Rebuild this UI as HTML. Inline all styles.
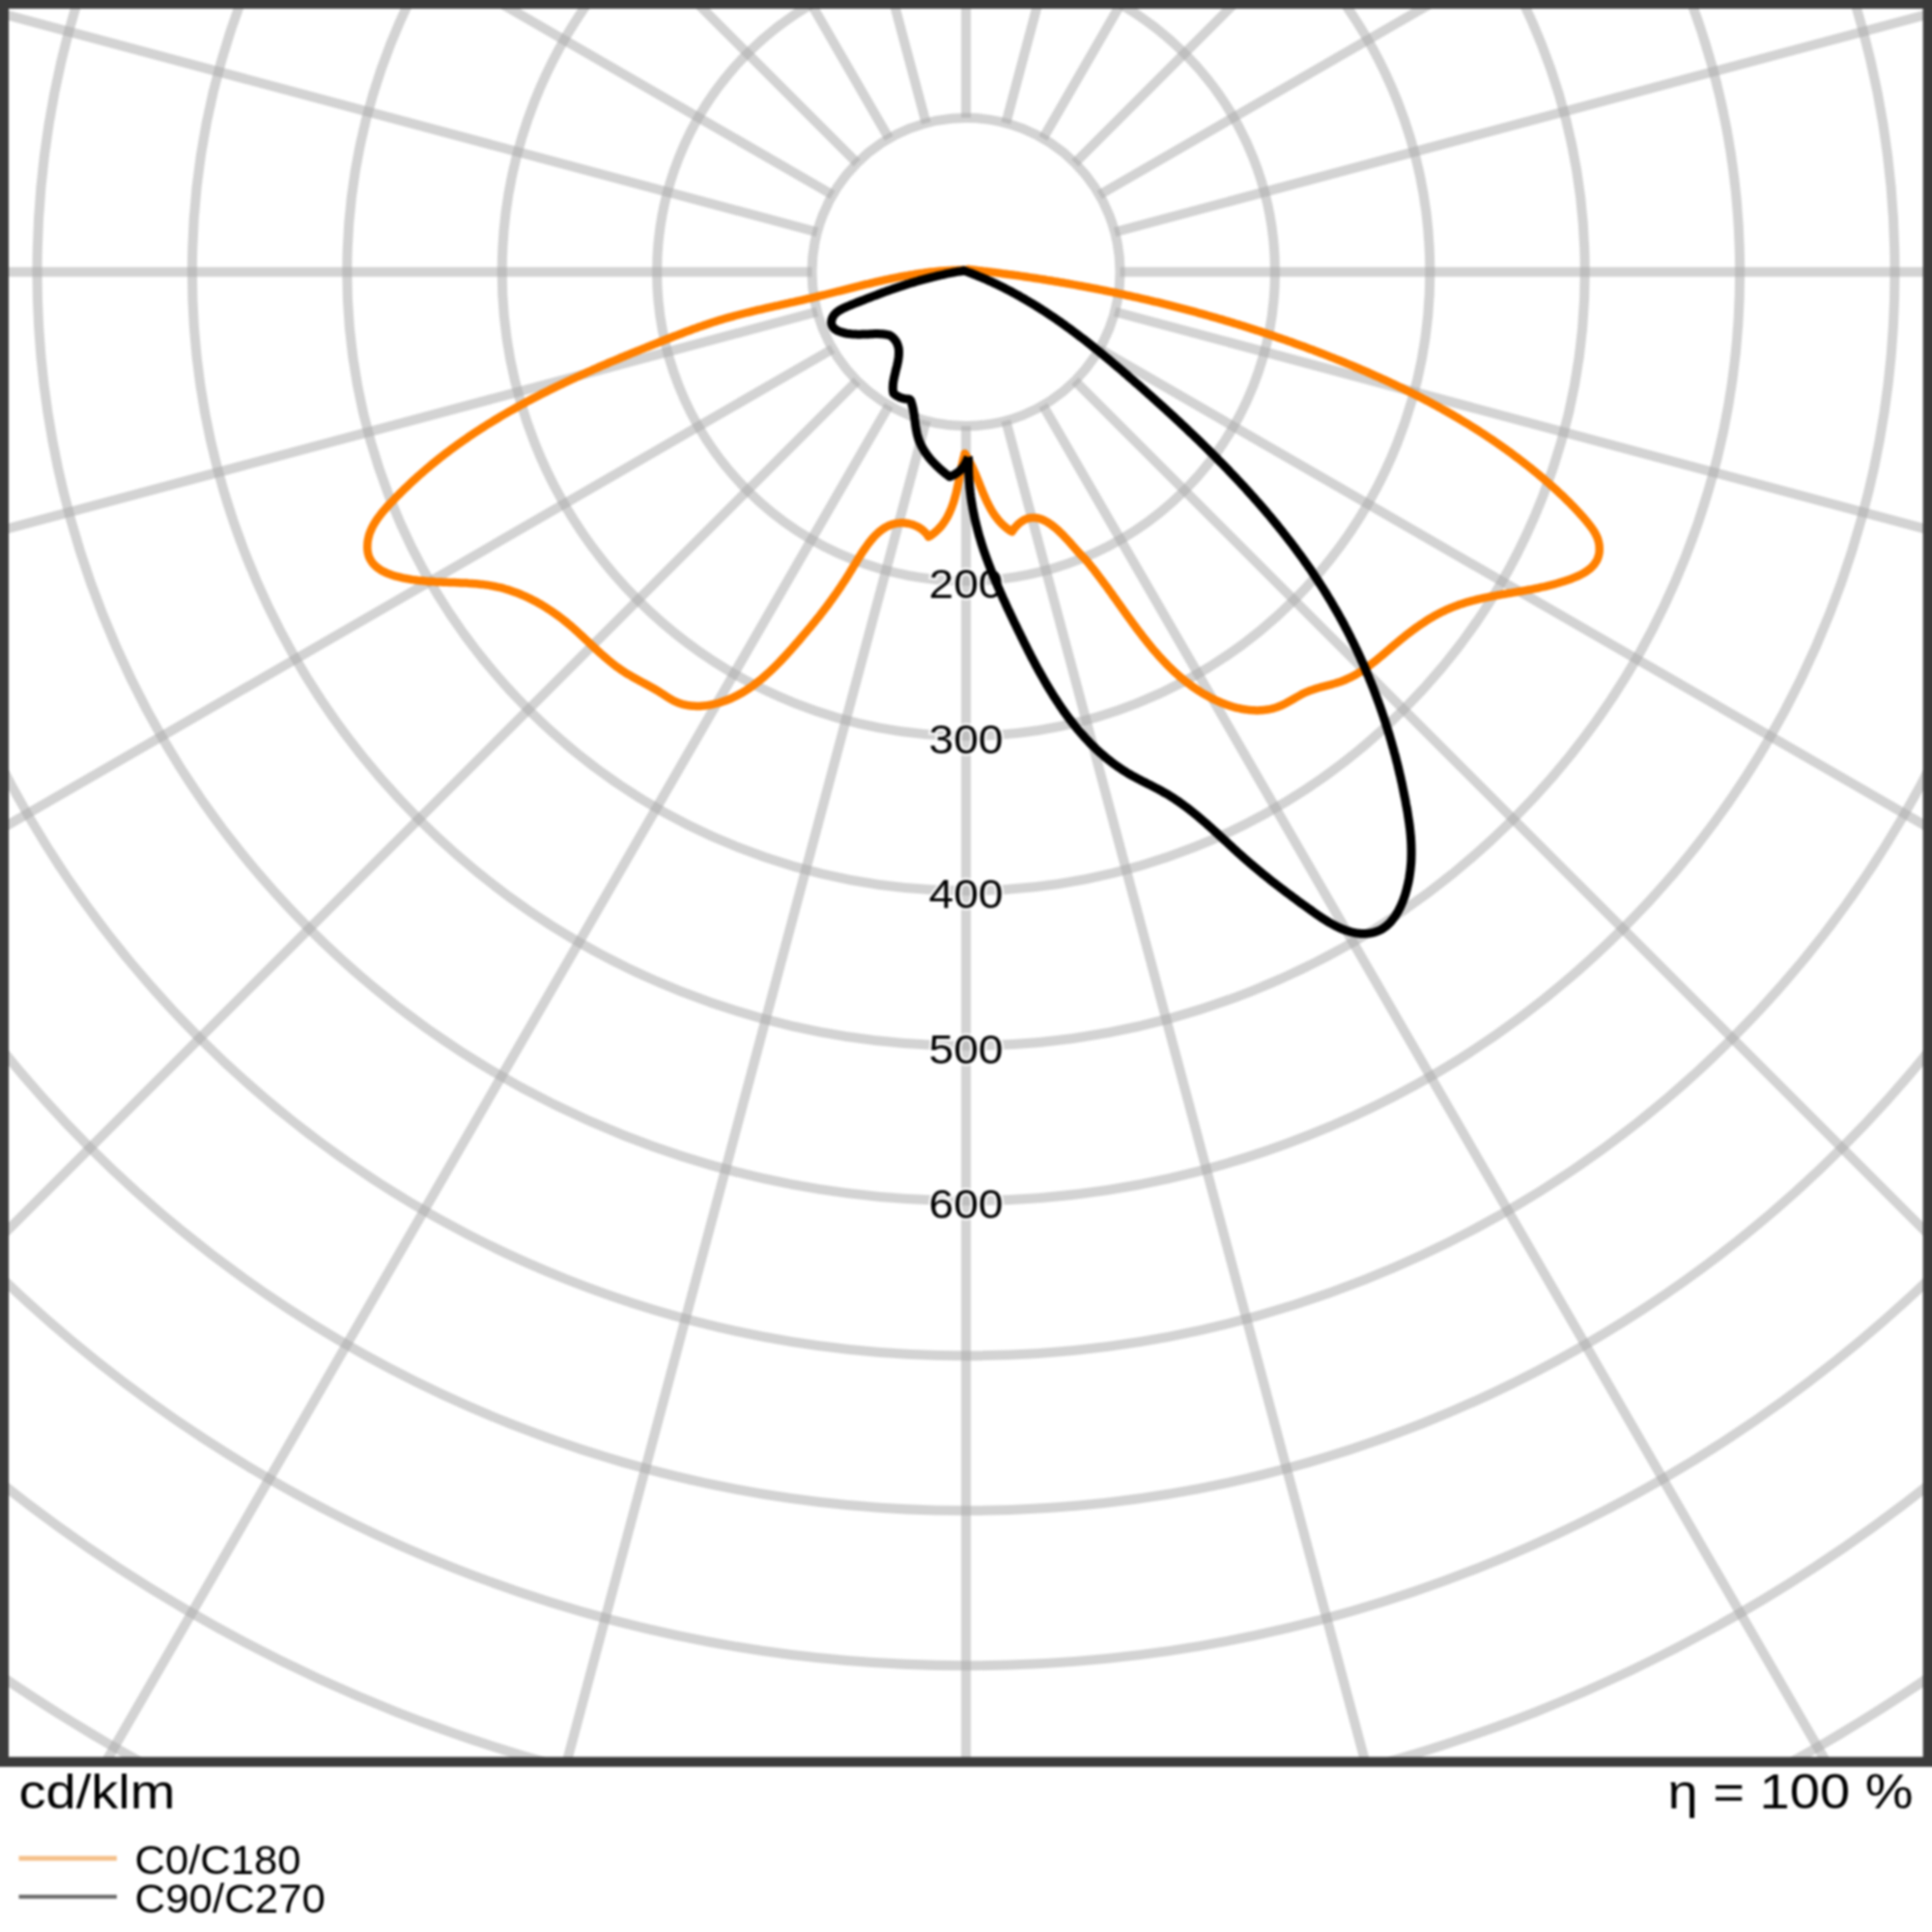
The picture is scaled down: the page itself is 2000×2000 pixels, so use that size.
<!DOCTYPE html>
<html><head><meta charset="utf-8"><style>
html,body{margin:0;padding:0;background:#fff;}
body{width:2000px;height:2000px;overflow:hidden;}
svg{display:block;}
text{font-family:"Liberation Sans",sans-serif;}
</style></head><body>
<svg width="2000" height="2000" viewBox="0 0 2000 2000" xmlns="http://www.w3.org/2000/svg">
<defs><clipPath id="fr"><rect x="0" y="0" width="2000" height="1824"/></clipPath>
<filter id="soft" filterUnits="userSpaceOnUse" x="-60" y="-60" width="2120" height="2120" color-interpolation-filters="sRGB"><feGaussianBlur stdDeviation="0.9"/></filter></defs>
<g filter="url(#soft)">
<rect x="-60" y="-60" width="2120" height="2120" fill="#fff"/>
<g clip-path="url(#fr)">
<g fill="none" stroke="rgb(171,171,171)" stroke-opacity="0.52" stroke-width="10">
<circle cx="1000.0" cy="281.5" r="159.5"/>
<circle cx="1000.0" cy="281.5" r="319.9"/>
<circle cx="1000.0" cy="281.5" r="480.3"/>
<circle cx="1000.0" cy="281.5" r="640.7"/>
<circle cx="1000.0" cy="281.5" r="801.1"/>
<circle cx="1000.0" cy="281.5" r="961.5"/>
<circle cx="1000.0" cy="281.5" r="1121.9"/>
<circle cx="1000.0" cy="281.5" r="1282.3"/>
<circle cx="1000.0" cy="281.5" r="1442.7"/>
<circle cx="1000.0" cy="281.5" r="1603.1"/>
<circle cx="1000.0" cy="281.5" r="1763.5"/>
<circle cx="1000.0" cy="281.5" r="1923.9"/>
<circle cx="1000.0" cy="281.5" r="2084.3"/>
<line x1="1000.00" y1="441.00" x2="1000.00" y2="2881.50"/>
<line x1="1041.28" y1="435.57" x2="1672.93" y2="2792.91"/>
<line x1="1079.75" y1="419.63" x2="2300.00" y2="2533.17"/>
<line x1="1112.78" y1="394.28" x2="2838.48" y2="2119.98"/>
<line x1="1138.13" y1="361.25" x2="3251.67" y2="1581.50"/>
<line x1="1154.07" y1="322.78" x2="3511.41" y2="954.43"/>
<line x1="1159.50" y1="281.50" x2="3600.00" y2="281.50"/>
<line x1="1154.07" y1="240.22" x2="3511.41" y2="-391.43"/>
<line x1="1138.13" y1="201.75" x2="3251.67" y2="-1018.50"/>
<line x1="1112.78" y1="168.72" x2="2838.48" y2="-1556.98"/>
<line x1="1079.75" y1="143.37" x2="2300.00" y2="-1970.17"/>
<line x1="1041.28" y1="127.43" x2="1672.93" y2="-2229.91"/>
<line x1="1000.00" y1="122.00" x2="1000.00" y2="-2318.50"/>
<line x1="958.72" y1="127.43" x2="327.07" y2="-2229.91"/>
<line x1="920.25" y1="143.37" x2="-300.00" y2="-1970.17"/>
<line x1="887.22" y1="168.72" x2="-838.48" y2="-1556.98"/>
<line x1="861.87" y1="201.75" x2="-1251.67" y2="-1018.50"/>
<line x1="845.93" y1="240.22" x2="-1511.41" y2="-391.43"/>
<line x1="840.50" y1="281.50" x2="-1600.00" y2="281.50"/>
<line x1="845.93" y1="322.78" x2="-1511.41" y2="954.43"/>
<line x1="861.87" y1="361.25" x2="-1251.67" y2="1581.50"/>
<line x1="887.22" y1="394.28" x2="-838.48" y2="2119.98"/>
<line x1="920.25" y1="419.63" x2="-300.00" y2="2533.17"/>
<line x1="958.72" y1="435.57" x2="327.07" y2="2792.91"/>
</g>
<g font-size="43" fill="#000" stroke="#fff" stroke-width="5" stroke-opacity="0.75" paint-order="stroke">
<text x="1000" y="619.4" text-anchor="middle" textLength="77" lengthAdjust="spacingAndGlyphs">200</text>
<text x="1000" y="779.8" text-anchor="middle" textLength="77" lengthAdjust="spacingAndGlyphs">300</text>
<text x="1000" y="940.2" text-anchor="middle" textLength="77" lengthAdjust="spacingAndGlyphs">400</text>
<text x="1000" y="1100.6" text-anchor="middle" textLength="77" lengthAdjust="spacingAndGlyphs">500</text>
<text x="1000" y="1261.0" text-anchor="middle" textLength="77" lengthAdjust="spacingAndGlyphs">600</text>
</g>
<path d="M1000.0,279.5 L998.0,279.6 L996.0,279.6 L993.9,279.6 L991.9,279.6 L989.9,279.7 L987.8,279.8 L985.8,279.8 L983.8,279.9 L981.8,280.0 L979.8,280.2 L977.7,280.3 L975.7,280.4 L973.7,280.6 L971.7,280.8 L969.7,281.0 L967.7,281.2 L965.7,281.4 L963.7,281.6 L961.7,281.8 L959.8,282.1 L957.8,282.3 L955.8,282.6 L953.8,282.9 L951.8,283.1 L949.8,283.4 L947.9,283.7 L945.9,284.1 L943.9,284.4 L942.0,284.7 L940.0,285.1 L938.0,285.4 L936.1,285.8 L934.1,286.1 L932.1,286.5 L930.2,286.9 L928.2,287.3 L926.3,287.7 L924.3,288.1 L922.3,288.5 L920.4,288.9 L918.4,289.3 L916.5,289.7 L914.5,290.2 L912.6,290.6 L910.6,291.0 L908.7,291.5 L906.7,291.9 L904.8,292.4 L902.8,292.8 L900.9,293.3 L898.9,293.8 L897.0,294.2 L895.1,294.7 L893.1,295.2 L891.2,295.7 L889.2,296.2 L887.3,296.6 L885.3,297.1 L883.4,297.6 L881.5,298.1 L879.5,298.6 L877.6,299.1 L875.6,299.6 L873.7,300.1 L871.7,300.6 L869.8,301.1 L867.8,301.5 L865.9,302.0 L864.0,302.5 L862.0,303.0 L860.1,303.5 L858.1,304.0 L856.2,304.5 L854.2,305.0 L852.3,305.5 L850.3,305.9 L848.4,306.4 L846.4,306.9 L844.5,307.4 L842.5,307.8 L840.5,308.3 L838.6,308.8 L836.6,309.2 L834.7,309.7 L832.7,310.1 L830.7,310.6 L828.8,311.0 L826.8,311.5 L824.8,311.9 L822.9,312.4 L820.9,312.8 L818.9,313.2 L817.0,313.7 L815.0,314.1 L813.0,314.5 L811.1,315.0 L809.1,315.4 L807.1,315.8 L805.2,316.3 L803.2,316.7 L801.3,317.2 L799.3,317.6 L797.3,318.0 L795.4,318.5 L793.4,318.9 L791.4,319.4 L789.5,319.8 L787.5,320.3 L785.6,320.7 L783.6,321.2 L781.7,321.7 L779.7,322.1 L777.8,322.6 L775.8,323.1 L773.9,323.5 L771.9,324.0 L770.0,324.5 L768.0,325.0 L766.1,325.5 L764.2,326.0 L762.2,326.5 L760.3,327.0 L758.4,327.6 L756.4,328.1 L754.5,328.6 L752.6,329.2 L750.7,329.7 L748.8,330.3 L746.9,330.9 L745.0,331.4 L743.1,332.0 L741.2,332.6 L739.3,333.2 L737.4,333.8 L735.5,334.5 L733.6,335.1 L731.7,335.7 L729.8,336.4 L728.0,337.0 L726.1,337.7 L724.2,338.3 L722.3,339.0 L720.5,339.7 L718.6,340.3 L716.7,341.0 L714.9,341.7 L713.0,342.4 L711.1,343.1 L709.3,343.8 L707.4,344.5 L705.6,345.2 L703.7,345.9 L701.8,346.7 L700.0,347.4 L698.1,348.1 L696.3,348.8 L694.4,349.5 L692.5,350.3 L690.7,351.0 L688.8,351.7 L687.0,352.5 L685.1,353.2 L683.2,353.9 L681.4,354.7 L679.5,355.4 L677.7,356.1 L675.8,356.9 L673.9,357.6 L672.1,358.4 L670.2,359.1 L668.3,359.9 L666.5,360.6 L664.6,361.4 L662.8,362.1 L660.9,362.9 L659.0,363.6 L657.2,364.4 L655.3,365.1 L653.4,365.9 L651.6,366.7 L649.7,367.4 L647.9,368.2 L646.0,369.0 L644.1,369.7 L642.3,370.5 L640.4,371.3 L638.6,372.1 L636.7,372.9 L634.9,373.6 L633.0,374.4 L631.1,375.2 L629.3,376.0 L627.4,376.8 L625.6,377.6 L623.7,378.4 L621.9,379.2 L620.0,380.0 L618.2,380.8 L616.4,381.6 L614.5,382.4 L612.7,383.3 L610.8,384.1 L609.0,384.9 L607.1,385.7 L605.3,386.6 L603.5,387.4 L601.6,388.2 L599.8,389.1 L598.0,389.9 L596.1,390.7 L594.3,391.6 L592.5,392.4 L590.7,393.3 L588.8,394.1 L587.0,395.0 L585.2,395.9 L583.4,396.7 L581.6,397.6 L579.7,398.5 L577.9,399.4 L576.1,400.2 L574.3,401.1 L572.5,402.0 L570.7,402.9 L568.9,403.8 L567.1,404.7 L565.3,405.6 L563.5,406.5 L561.7,407.4 L559.9,408.3 L558.2,409.2 L556.4,410.1 L554.6,411.1 L552.8,412.0 L551.0,412.9 L549.3,413.9 L547.5,414.8 L545.7,415.7 L544.0,416.7 L542.2,417.7 L540.5,418.6 L538.7,419.6 L537.0,420.5 L535.2,421.5 L533.5,422.5 L531.7,423.5 L530.0,424.4 L528.2,425.4 L526.5,426.4 L524.8,427.4 L523.1,428.4 L521.3,429.4 L519.6,430.4 L517.9,431.4 L516.2,432.5 L514.5,433.5 L512.8,434.5 L511.1,435.5 L509.4,436.6 L507.7,437.6 L506.0,438.7 L504.3,439.7 L502.6,440.8 L501.0,441.8 L499.3,442.9 L497.6,444.0 L496.0,445.1 L494.3,446.1 L492.6,447.2 L491.0,448.3 L489.3,449.4 L487.7,450.5 L486.1,451.6 L484.4,452.8 L482.8,453.9 L481.2,455.0 L479.5,456.1 L477.9,457.3 L476.3,458.4 L474.7,459.6 L473.1,460.7 L471.5,461.9 L469.9,463.1 L468.3,464.2 L466.7,465.4 L465.1,466.6 L463.5,467.8 L461.9,469.0 L460.3,470.2 L458.8,471.4 L457.2,472.7 L455.6,473.9 L454.1,475.1 L452.5,476.4 L451.0,477.6 L449.4,478.9 L447.9,480.1 L446.3,481.4 L444.8,482.7 L443.3,484.0 L441.7,485.3 L440.2,486.6 L438.7,487.9 L437.2,489.2 L435.6,490.6 L434.1,491.9 L432.6,493.2 L431.1,494.6 L429.6,496.0 L428.1,497.3 L426.6,498.7 L425.1,500.1 L423.6,501.5 L422.2,502.9 L420.7,504.3 L419.2,505.7 L417.7,507.1 L416.3,508.6 L414.8,510.0 L413.4,511.5 L411.9,513.0 L410.4,514.4 L409.0,515.9 L407.6,517.4 L406.1,518.9 L404.7,520.4 L403.2,521.9 L401.8,523.5 L400.4,525.0 L399.0,526.6 L397.7,528.2 L396.3,529.7 L395.0,531.3 L393.7,533.0 L392.5,534.6 L391.2,536.2 L390.1,537.9 L389.0,539.6 L387.9,541.3 L386.9,543.0 L385.9,544.8 L385.0,546.6 L384.2,548.4 L383.4,550.2 L382.7,552.0 L382.1,553.9 L381.6,555.8 L381.2,557.7 L380.8,559.7 L380.5,561.7 L380.4,563.7 L380.3,565.6 L380.3,567.6 L380.5,569.6 L380.7,571.5 L381.1,573.3 L381.6,575.1 L382.2,576.8 L382.9,578.4 L383.8,579.9 L384.7,581.4 L385.7,582.8 L386.9,584.1 L388.1,585.4 L389.4,586.6 L390.8,587.7 L392.3,588.8 L393.8,589.8 L395.4,590.8 L397.1,591.7 L398.9,592.5 L400.7,593.3 L402.5,594.1 L404.4,594.8 L406.4,595.5 L408.4,596.1 L410.4,596.7 L412.5,597.2 L414.5,597.7 L416.6,598.2 L418.8,598.6 L420.9,599.0 L423.0,599.4 L425.2,599.8 L427.3,600.1 L429.5,600.4 L431.6,600.6 L433.7,600.9 L435.9,601.1 L438.0,601.3 L440.1,601.5 L442.2,601.7 L444.3,601.9 L446.3,602.0 L448.4,602.1 L450.5,602.3 L452.6,602.4 L454.6,602.5 L456.7,602.6 L458.7,602.7 L460.7,602.8 L462.8,602.8 L464.8,602.9 L466.8,603.0 L468.8,603.1 L470.8,603.1 L472.8,603.2 L474.8,603.3 L476.8,603.4 L478.8,603.4 L480.8,603.5 L482.8,603.6 L484.8,603.8 L486.7,603.9 L488.7,604.0 L490.6,604.2 L492.6,604.3 L494.5,604.5 L496.5,604.7 L498.4,604.9 L500.4,605.1 L502.3,605.4 L504.2,605.6 L506.2,605.9 L508.1,606.3 L510.0,606.6 L511.9,607.0 L513.8,607.4 L515.7,607.8 L517.7,608.2 L519.6,608.7 L521.5,609.2 L523.4,609.8 L525.3,610.3 L527.1,610.9 L529.0,611.6 L530.9,612.2 L532.8,612.9 L534.7,613.6 L536.5,614.3 L538.4,615.0 L540.2,615.8 L542.1,616.6 L543.9,617.4 L545.7,618.3 L547.6,619.2 L549.4,620.0 L551.2,621.0 L553.0,621.9 L554.8,622.8 L556.6,623.8 L558.3,624.8 L560.1,625.8 L561.8,626.9 L563.6,627.9 L565.3,629.0 L567.0,630.1 L568.7,631.2 L570.4,632.3 L572.1,633.5 L573.8,634.6 L575.4,635.8 L577.1,637.0 L578.7,638.2 L580.3,639.4 L582.0,640.6 L583.5,641.9 L585.1,643.1 L586.7,644.4 L588.2,645.7 L589.8,647.0 L591.3,648.3 L592.8,649.6 L594.3,650.9 L595.8,652.3 L597.3,653.6 L598.8,655.0 L600.2,656.3 L601.7,657.7 L603.2,659.0 L604.6,660.4 L606.1,661.8 L607.5,663.1 L609.0,664.5 L610.4,665.8 L611.8,667.2 L613.3,668.6 L614.7,669.9 L616.2,671.3 L617.6,672.6 L619.1,674.0 L620.6,675.3 L622.0,676.6 L623.5,677.9 L625.0,679.2 L626.5,680.5 L628.0,681.8 L629.5,683.1 L631.0,684.4 L632.6,685.6 L634.1,686.9 L635.7,688.1 L637.2,689.3 L638.8,690.5 L640.4,691.6 L642.1,692.8 L643.7,693.9 L645.4,695.0 L647.0,696.1 L648.7,697.2 L650.5,698.2 L652.2,699.2 L653.9,700.2 L655.7,701.2 L657.5,702.2 L659.3,703.2 L661.0,704.2 L662.8,705.1 L664.6,706.1 L666.4,707.1 L668.2,708.0 L670.0,709.0 L671.8,710.0 L673.6,711.0 L675.4,712.0 L677.2,713.0 L678.9,714.0 L680.7,715.0 L682.4,716.1 L684.1,717.2 L685.8,718.3 L687.5,719.4 L689.2,720.5 L690.9,721.6 L692.6,722.6 L694.3,723.7 L696.0,724.7 L697.7,725.6 L699.5,726.4 L701.3,727.2 L703.1,727.9 L705.0,728.5 L706.9,729.1 L708.8,729.5 L710.7,729.9 L712.7,730.3 L714.6,730.5 L716.6,730.7 L718.6,730.8 L720.6,730.9 L722.6,730.9 L724.6,730.9 L726.6,730.7 L728.6,730.6 L730.7,730.4 L732.7,730.1 L734.7,729.8 L736.7,729.4 L738.6,729.0 L740.6,728.5 L742.6,728.0 L744.5,727.5 L746.4,726.9 L748.3,726.3 L750.2,725.6 L752.1,725.0 L753.9,724.2 L755.8,723.5 L757.6,722.7 L759.4,721.8 L761.2,720.9 L762.9,720.0 L764.7,719.1 L766.4,718.1 L768.2,717.2 L769.9,716.1 L771.6,715.1 L773.3,714.0 L775.0,712.9 L776.6,711.8 L778.3,710.6 L779.9,709.4 L781.5,708.2 L783.1,707.0 L784.7,705.7 L786.3,704.5 L787.9,703.2 L789.4,701.9 L791.0,700.6 L792.5,699.2 L794.0,697.8 L795.6,696.5 L797.1,695.1 L798.5,693.7 L800.0,692.3 L801.5,690.8 L803.0,689.4 L804.4,687.9 L805.8,686.5 L807.3,685.0 L808.7,683.5 L810.1,682.0 L811.5,680.5 L812.9,679.0 L814.3,677.5 L815.7,676.0 L817.0,674.5 L818.4,673.0 L819.7,671.5 L821.1,669.9 L822.4,668.4 L823.7,666.9 L825.0,665.4 L826.4,663.9 L827.7,662.4 L829.0,660.8 L830.2,659.3 L831.5,657.8 L832.8,656.3 L834.1,654.8 L835.3,653.3 L836.6,651.8 L837.9,650.3 L839.1,648.8 L840.3,647.3 L841.6,645.8 L842.8,644.3 L844.0,642.8 L845.2,641.3 L846.5,639.8 L847.7,638.3 L848.9,636.8 L850.1,635.2 L851.3,633.7 L852.4,632.2 L853.6,630.6 L854.8,629.1 L856.0,627.5 L857.2,626.0 L858.3,624.4 L859.5,622.8 L860.6,621.2 L861.8,619.6 L862.9,618.0 L864.1,616.4 L865.2,614.8 L866.4,613.2 L867.5,611.5 L868.6,609.9 L869.8,608.2 L870.9,606.5 L872.0,604.8 L873.1,603.1 L874.3,601.4 L875.4,599.7 L876.5,597.9 L877.6,596.2 L878.7,594.4 L879.8,592.6 L880.9,590.8 L882.0,589.0 L883.1,587.1 L884.2,585.3 L885.4,583.5 L886.5,581.6 L887.6,579.8 L888.7,577.9 L889.8,576.1 L891.0,574.3 L892.1,572.5 L893.3,570.7 L894.5,569.0 L895.7,567.3 L896.9,565.6 L898.1,563.9 L899.3,562.3 L900.6,560.7 L901.8,559.1 L903.1,557.6 L904.4,556.1 L905.7,554.7 L907.1,553.3 L908.5,552.0 L909.9,550.8 L911.3,549.6 L912.8,548.5 L914.2,547.4 L915.7,546.5 L917.3,545.5 L918.9,544.7 L920.5,544.0 L922.1,543.3 L923.8,542.7 L925.5,542.3 L927.3,541.9 L929.1,541.6 L930.9,541.4 L932.8,541.3 L934.7,541.3 L936.6,541.4 L938.6,541.7 L940.6,542.0 L942.6,542.5 L944.6,543.1 L946.6,543.8 L948.5,544.6 L950.4,545.5 L952.2,546.6 L954.0,547.8 L955.6,549.1 L957.2,550.6 L958.7,552.2 L960.1,553.9 L961.1,555.6 L963.1,554.6 L964.9,553.4 L966.6,552.1 L968.2,550.8 L969.7,549.4 L971.2,548.0 L972.6,546.5 L974.0,545.0 L975.3,543.4 L976.5,541.8 L977.6,540.2 L978.7,538.5 L979.8,536.8 L980.8,535.0 L981.7,533.2 L982.6,531.4 L983.4,529.6 L984.2,527.7 L985.0,525.8 L985.7,523.9 L986.4,521.9 L987.1,520.0 L987.7,518.0 L988.3,516.0 L988.8,514.0 L989.4,512.0 L989.9,509.9 L990.4,507.9 L990.8,505.8 L991.3,503.8 L991.7,501.7 L992.2,499.6 L992.6,497.6 L993.0,495.5 L993.4,493.5 L993.8,491.4 L994.2,489.4 L994.6,487.3 L995.0,485.3 L995.4,483.3 L995.9,481.3 L996.3,479.3 L996.8,477.3 L997.2,475.4 L997.7,473.5 L998.2,471.6 L998.6,469.5 L999.8,471.2 L1000.9,473.0 L1001.9,474.7 L1003.0,476.5 L1003.9,478.3 L1004.9,480.2 L1005.8,482.0 L1006.7,483.9 L1007.6,485.8 L1008.4,487.7 L1009.3,489.6 L1010.1,491.5 L1010.9,493.5 L1011.7,495.4 L1012.5,497.4 L1013.3,499.3 L1014.1,501.3 L1014.8,503.3 L1015.6,505.2 L1016.4,507.2 L1017.2,509.1 L1018.0,511.1 L1018.9,513.0 L1019.7,514.9 L1020.5,516.8 L1021.4,518.7 L1022.3,520.6 L1023.3,522.5 L1024.2,524.3 L1025.2,526.1 L1026.2,527.9 L1027.3,529.7 L1028.4,531.4 L1029.5,533.1 L1030.7,534.8 L1032.0,536.4 L1033.2,538.0 L1034.6,539.6 L1036.0,541.1 L1037.4,542.6 L1038.9,544.0 L1040.5,545.4 L1042.1,546.7 L1043.9,548.0 L1045.6,549.3 L1047.5,550.4 L1049.3,547.9 L1051.1,545.7 L1052.9,543.8 L1054.7,542.0 L1056.6,540.5 L1058.4,539.3 L1060.2,538.2 L1062.1,537.4 L1063.9,536.7 L1065.8,536.3 L1067.6,536.0 L1069.4,535.9 L1071.3,535.9 L1073.1,536.2 L1075.0,536.5 L1076.8,537.0 L1078.6,537.7 L1080.4,538.5 L1082.2,539.4 L1084.0,540.4 L1085.8,541.5 L1087.6,542.7 L1089.3,544.0 L1091.0,545.3 L1092.8,546.8 L1094.5,548.2 L1096.2,549.8 L1097.8,551.4 L1099.5,553.0 L1101.1,554.7 L1102.7,556.4 L1104.3,558.0 L1105.8,559.7 L1107.4,561.4 L1108.9,563.1 L1110.3,564.8 L1111.8,566.4 L1113.2,568.0 L1114.6,569.6 L1115.9,571.1 L1117.2,572.5 L1118.5,573.9 L1119.7,575.2 L1120.9,576.4 L1122.1,577.6 L1123.2,578.6 L1124.5,580.2 L1125.8,581.7 L1127.0,583.2 L1128.3,584.7 L1129.5,586.3 L1130.7,587.8 L1132.0,589.3 L1133.2,590.9 L1134.4,592.5 L1135.6,594.0 L1136.8,595.6 L1138.0,597.2 L1139.2,598.8 L1140.4,600.4 L1141.6,602.0 L1142.8,603.6 L1144.0,605.2 L1145.2,606.8 L1146.4,608.4 L1147.5,610.0 L1148.7,611.7 L1149.9,613.3 L1151.1,614.9 L1152.2,616.6 L1153.4,618.2 L1154.6,619.9 L1155.8,621.5 L1156.9,623.2 L1158.1,624.8 L1159.3,626.5 L1160.5,628.1 L1161.6,629.8 L1162.8,631.4 L1164.0,633.1 L1165.2,634.7 L1166.3,636.4 L1167.5,638.0 L1168.7,639.6 L1169.9,641.3 L1171.1,642.9 L1172.3,644.6 L1173.5,646.2 L1174.7,647.8 L1175.9,649.5 L1177.1,651.1 L1178.3,652.7 L1179.5,654.3 L1180.8,655.9 L1182.0,657.5 L1183.2,659.1 L1184.5,660.7 L1185.7,662.3 L1187.0,663.9 L1188.2,665.5 L1189.5,667.0 L1190.8,668.6 L1192.0,670.1 L1193.3,671.7 L1194.6,673.2 L1195.9,674.7 L1197.3,676.2 L1198.6,677.7 L1199.9,679.2 L1201.2,680.7 L1202.6,682.2 L1204.0,683.7 L1205.3,685.1 L1206.7,686.5 L1208.1,688.0 L1209.5,689.4 L1210.9,690.8 L1212.3,692.2 L1213.8,693.6 L1215.2,694.9 L1216.7,696.3 L1218.2,697.6 L1219.6,698.9 L1221.1,700.2 L1222.6,701.5 L1224.2,702.8 L1225.7,704.1 L1227.3,705.3 L1228.8,706.5 L1230.4,707.7 L1232.0,708.9 L1233.6,710.1 L1235.2,711.3 L1236.9,712.4 L1238.5,713.5 L1240.2,714.6 L1241.9,715.7 L1243.6,716.8 L1245.3,717.8 L1247.0,718.8 L1248.8,719.8 L1250.6,720.8 L1252.4,721.8 L1254.2,722.7 L1256.0,723.6 L1257.8,724.5 L1259.7,725.4 L1261.5,726.2 L1263.4,727.0 L1265.3,727.8 L1267.2,728.5 L1269.1,729.2 L1271.0,729.9 L1273.0,730.6 L1274.9,731.2 L1276.8,731.8 L1278.8,732.3 L1280.7,732.8 L1282.7,733.2 L1284.6,733.7 L1286.6,734.0 L1288.6,734.4 L1290.5,734.6 L1292.5,734.9 L1294.5,735.1 L1296.4,735.2 L1298.4,735.3 L1300.4,735.4 L1302.3,735.4 L1304.3,735.3 L1306.2,735.2 L1308.1,735.0 L1310.1,734.8 L1312.0,734.5 L1313.9,734.2 L1315.8,733.8 L1317.7,733.3 L1319.6,732.8 L1321.5,732.2 L1323.4,731.5 L1325.2,730.8 L1327.1,730.0 L1328.9,729.2 L1330.7,728.3 L1332.5,727.3 L1334.3,726.3 L1336.1,725.3 L1337.9,724.2 L1339.7,723.2 L1341.5,722.1 L1343.3,721.1 L1345.1,720.1 L1346.9,719.1 L1348.8,718.1 L1350.6,717.2 L1352.5,716.4 L1354.4,715.6 L1356.4,714.8 L1358.3,714.2 L1360.3,713.5 L1362.2,712.9 L1364.2,712.3 L1366.2,711.7 L1368.2,711.2 L1370.2,710.7 L1372.1,710.1 L1374.1,709.6 L1376.1,709.1 L1378.1,708.6 L1380.0,708.0 L1381.9,707.5 L1383.9,706.9 L1385.8,706.3 L1387.6,705.7 L1389.5,705.0 L1391.3,704.3 L1393.1,703.5 L1394.9,702.7 L1396.7,701.9 L1398.4,701.1 L1400.1,700.2 L1401.9,699.3 L1403.5,698.3 L1405.2,697.3 L1406.9,696.3 L1408.5,695.3 L1410.1,694.3 L1411.7,693.2 L1413.3,692.1 L1414.9,690.9 L1416.5,689.8 L1418.1,688.6 L1419.6,687.4 L1421.2,686.2 L1422.7,685.0 L1424.3,683.8 L1425.8,682.6 L1427.3,681.3 L1428.9,680.0 L1430.4,678.8 L1431.9,677.5 L1433.4,676.2 L1434.9,674.9 L1436.5,673.6 L1438.0,672.3 L1439.5,670.9 L1441.1,669.6 L1442.6,668.3 L1444.1,667.0 L1445.7,665.7 L1447.3,664.4 L1448.8,663.1 L1450.4,661.8 L1452.0,660.5 L1453.6,659.2 L1455.2,657.9 L1456.8,656.7 L1458.4,655.4 L1460.1,654.2 L1461.7,652.9 L1463.4,651.7 L1465.0,650.5 L1466.7,649.3 L1468.4,648.1 L1470.1,646.9 L1471.8,645.8 L1473.5,644.7 L1475.2,643.5 L1476.9,642.4 L1478.6,641.3 L1480.4,640.3 L1482.1,639.2 L1483.9,638.2 L1485.6,637.2 L1487.4,636.2 L1489.2,635.3 L1491.0,634.4 L1492.8,633.4 L1494.6,632.6 L1496.4,631.7 L1498.2,630.9 L1500.0,630.1 L1501.8,629.3 L1503.6,628.6 L1505.5,627.8 L1507.3,627.2 L1509.2,626.5 L1511.0,625.8 L1512.9,625.2 L1514.8,624.6 L1516.6,624.0 L1518.5,623.4 L1520.4,622.9 L1522.3,622.4 L1524.2,621.8 L1526.1,621.4 L1528.0,620.9 L1529.9,620.4 L1531.8,620.0 L1533.7,619.5 L1535.6,619.1 L1537.6,618.7 L1539.5,618.3 L1541.4,617.9 L1543.4,617.5 L1545.3,617.1 L1547.3,616.8 L1549.2,616.4 L1551.2,616.0 L1553.1,615.7 L1555.1,615.3 L1557.0,615.0 L1559.0,614.7 L1561.0,614.3 L1562.9,614.0 L1564.9,613.7 L1566.9,613.3 L1568.8,613.0 L1570.8,612.6 L1572.8,612.3 L1574.8,612.0 L1576.8,611.6 L1578.7,611.3 L1580.7,610.9 L1582.7,610.5 L1584.7,610.2 L1586.7,609.8 L1588.7,609.4 L1590.7,609.0 L1592.7,608.6 L1594.6,608.1 L1596.6,607.7 L1598.6,607.3 L1600.6,606.8 L1602.6,606.3 L1604.6,605.8 L1606.6,605.3 L1608.6,604.8 L1610.6,604.3 L1612.6,603.7 L1614.5,603.1 L1616.5,602.5 L1618.5,601.9 L1620.5,601.2 L1622.5,600.6 L1624.5,599.9 L1626.4,599.2 L1628.4,598.4 L1630.3,597.6 L1632.3,596.8 L1634.1,596.0 L1636.0,595.1 L1637.8,594.1 L1639.5,593.2 L1641.2,592.1 L1642.8,591.1 L1644.4,589.9 L1645.9,588.8 L1647.3,587.5 L1648.6,586.2 L1649.8,584.9 L1650.9,583.4 L1651.9,581.9 L1652.9,580.4 L1653.7,578.7 L1654.3,577.0 L1654.9,575.2 L1655.3,573.4 L1655.6,571.5 L1655.7,569.5 L1655.7,567.5 L1655.6,565.5 L1655.4,563.5 L1655.0,561.5 L1654.5,559.5 L1653.9,557.6 L1653.2,555.8 L1652.3,554.0 L1651.4,552.2 L1650.4,550.4 L1649.3,548.7 L1648.2,547.0 L1646.9,545.3 L1645.7,543.7 L1644.4,542.1 L1643.1,540.5 L1641.8,538.9 L1640.4,537.3 L1639.1,535.7 L1637.7,534.2 L1636.3,532.6 L1635.0,531.1 L1633.6,529.6 L1632.2,528.1 L1630.8,526.6 L1629.4,525.1 L1628.0,523.7 L1626.5,522.2 L1625.1,520.7 L1623.7,519.3 L1622.2,517.9 L1620.8,516.5 L1619.3,515.0 L1617.9,513.6 L1616.4,512.2 L1614.9,510.9 L1613.5,509.5 L1612.0,508.1 L1610.5,506.7 L1609.0,505.4 L1607.5,504.0 L1606.0,502.7 L1604.5,501.4 L1603.0,500.0 L1601.4,498.7 L1599.9,497.4 L1598.4,496.1 L1596.9,494.8 L1595.3,493.5 L1593.8,492.2 L1592.2,490.9 L1590.7,489.6 L1589.1,488.3 L1587.6,487.1 L1586.0,485.8 L1584.5,484.5 L1582.9,483.3 L1581.3,482.0 L1579.8,480.8 L1578.2,479.6 L1576.6,478.3 L1575.0,477.1 L1573.4,475.9 L1571.8,474.7 L1570.2,473.5 L1568.6,472.3 L1567.0,471.1 L1565.4,469.9 L1563.8,468.7 L1562.2,467.5 L1560.6,466.4 L1559.0,465.2 L1557.3,464.0 L1555.7,462.9 L1554.1,461.7 L1552.4,460.6 L1550.8,459.4 L1549.2,458.3 L1547.5,457.2 L1545.9,456.0 L1544.2,454.9 L1542.5,453.8 L1540.9,452.7 L1539.2,451.6 L1537.6,450.5 L1535.9,449.4 L1534.2,448.3 L1532.5,447.2 L1530.9,446.1 L1529.2,445.0 L1527.5,444.0 L1525.8,442.9 L1524.1,441.9 L1522.4,440.8 L1520.7,439.7 L1519.0,438.7 L1517.3,437.7 L1515.6,436.6 L1513.9,435.6 L1512.2,434.6 L1510.5,433.5 L1508.8,432.5 L1507.0,431.5 L1505.3,430.5 L1503.6,429.5 L1501.9,428.5 L1500.1,427.5 L1498.4,426.5 L1496.7,425.5 L1494.9,424.6 L1493.2,423.6 L1491.4,422.6 L1489.7,421.6 L1487.9,420.7 L1486.2,419.7 L1484.4,418.8 L1482.7,417.8 L1480.9,416.9 L1479.1,415.9 L1477.4,415.0 L1475.6,414.1 L1473.8,413.1 L1472.1,412.2 L1470.3,411.3 L1468.5,410.4 L1466.7,409.5 L1465.0,408.6 L1463.2,407.7 L1461.4,406.8 L1459.6,405.9 L1457.8,405.0 L1456.0,404.1 L1454.2,403.2 L1452.4,402.3 L1450.6,401.4 L1448.8,400.6 L1447.0,399.7 L1445.2,398.8 L1443.4,398.0 L1441.6,397.1 L1439.8,396.3 L1438.0,395.4 L1436.2,394.6 L1434.3,393.7 L1432.5,392.9 L1430.7,392.1 L1428.9,391.2 L1427.0,390.4 L1425.2,389.6 L1423.4,388.8 L1421.6,388.0 L1419.7,387.1 L1417.9,386.3 L1416.1,385.5 L1414.2,384.7 L1412.4,383.9 L1410.6,383.1 L1408.7,382.3 L1406.9,381.5 L1405.0,380.8 L1403.2,380.0 L1401.3,379.2 L1399.5,378.4 L1397.6,377.6 L1395.8,376.9 L1393.9,376.1 L1392.1,375.3 L1390.2,374.6 L1388.4,373.8 L1386.5,373.1 L1384.6,372.3 L1382.8,371.6 L1380.9,370.8 L1379.1,370.1 L1377.2,369.4 L1375.3,368.6 L1373.5,367.9 L1371.6,367.2 L1369.7,366.4 L1367.9,365.7 L1366.0,365.0 L1364.1,364.3 L1362.2,363.6 L1360.4,362.8 L1358.5,362.1 L1356.6,361.4 L1354.7,360.7 L1352.8,360.0 L1351.0,359.3 L1349.1,358.6 L1347.2,357.9 L1345.3,357.2 L1343.4,356.6 L1341.5,355.9 L1339.7,355.2 L1337.8,354.5 L1335.9,353.8 L1334.0,353.2 L1332.1,352.5 L1330.2,351.8 L1328.3,351.2 L1326.4,350.5 L1324.5,349.9 L1322.6,349.2 L1320.7,348.6 L1318.8,347.9 L1316.9,347.3 L1315.0,346.6 L1313.1,346.0 L1311.2,345.3 L1309.3,344.7 L1307.4,344.1 L1305.5,343.4 L1303.6,342.8 L1301.7,342.2 L1299.8,341.6 L1297.9,341.0 L1296.0,340.4 L1294.1,339.7 L1292.1,339.1 L1290.2,338.5 L1288.3,337.9 L1286.4,337.3 L1284.5,336.7 L1282.6,336.1 L1280.7,335.5 L1278.7,335.0 L1276.8,334.4 L1274.9,333.8 L1273.0,333.2 L1271.1,332.6 L1269.1,332.1 L1267.2,331.5 L1265.3,330.9 L1263.4,330.3 L1261.4,329.8 L1259.5,329.2 L1257.6,328.7 L1255.6,328.1 L1253.7,327.6 L1251.8,327.0 L1249.9,326.5 L1247.9,325.9 L1246.0,325.4 L1244.1,324.8 L1242.1,324.3 L1240.2,323.8 L1238.3,323.2 L1236.3,322.7 L1234.4,322.2 L1232.4,321.7 L1230.5,321.2 L1228.6,320.6 L1226.6,320.1 L1224.7,319.6 L1222.7,319.1 L1220.8,318.6 L1218.9,318.1 L1216.9,317.6 L1215.0,317.1 L1213.0,316.6 L1211.1,316.1 L1209.1,315.6 L1207.2,315.1 L1205.2,314.7 L1203.3,314.2 L1201.3,313.7 L1199.4,313.2 L1197.4,312.7 L1195.5,312.3 L1193.5,311.8 L1191.6,311.3 L1189.6,310.9 L1187.7,310.4 L1185.7,310.0 L1183.8,309.5 L1181.8,309.1 L1179.9,308.6 L1177.9,308.2 L1175.9,307.7 L1174.0,307.3 L1172.0,306.8 L1170.1,306.4 L1168.1,306.0 L1166.1,305.6 L1164.2,305.1 L1162.2,304.7 L1160.3,304.3 L1158.3,303.9 L1156.3,303.4 L1154.4,303.0 L1152.4,302.6 L1150.4,302.2 L1148.5,301.8 L1146.5,301.4 L1144.6,301.0 L1142.6,300.6 L1140.6,300.2 L1138.7,299.8 L1136.7,299.4 L1134.7,299.0 L1132.8,298.6 L1130.8,298.3 L1128.8,297.9 L1126.8,297.5 L1124.9,297.1 L1122.9,296.8 L1120.9,296.4 L1119.0,296.0 L1117.0,295.7 L1115.0,295.3 L1113.1,294.9 L1111.1,294.6 L1109.1,294.2 L1107.1,293.9 L1105.2,293.5 L1103.2,293.2 L1101.2,292.8 L1099.2,292.5 L1097.3,292.2 L1095.3,291.8 L1093.3,291.5 L1091.3,291.2 L1089.4,290.8 L1087.4,290.5 L1085.4,290.2 L1083.4,289.9 L1081.5,289.5 L1079.5,289.2 L1077.5,288.9 L1075.5,288.6 L1073.5,288.3 L1071.6,288.0 L1069.6,287.7 L1067.6,287.4 L1065.6,287.1 L1063.6,286.8 L1061.7,286.5 L1059.7,286.2 L1057.7,285.9 L1055.7,285.6 L1053.7,285.3 L1051.8,285.1 L1049.8,284.8 L1047.8,284.5 L1045.8,284.2 L1043.8,284.0 L1041.9,283.7 L1039.9,283.4 L1037.9,283.2 L1035.9,282.9 L1033.9,282.6 L1032.0,282.4 L1030.0,282.1 L1028.0,281.9 L1026.0,281.6 L1024.0,281.4 L1022.0,281.1 L1020.1,280.9 L1018.1,280.7 L1016.1,280.4 L1014.1,280.2 L1012.1,280.0 L1010.1,279.7 L1008.2,279.5 L1006.2,279.3 L1004.2,279.1 L1002.2,278.8 L1000.0,279.5" fill="none" stroke="#ff8000" stroke-width="8.5" stroke-linejoin="round"/>
<path d="M1002.3,473.0 L1001.4,475.4 L1000.5,477.6 L999.4,479.7 L998.3,481.6 L997.0,483.5 L995.6,485.2 L994.1,486.8 L992.5,488.2 L990.8,489.5 L989.0,490.7 L987.1,491.8 L985.0,492.7 L982.9,493.5 L981.4,492.3 L979.7,491.0 L978.1,489.7 L976.4,488.3 L974.8,486.9 L973.2,485.6 L971.7,484.1 L970.2,482.7 L968.7,481.2 L967.2,479.8 L965.8,478.3 L964.4,476.7 L963.0,475.2 L961.7,473.6 L960.5,472.0 L959.3,470.4 L958.1,468.7 L957.0,467.1 L956.0,465.4 L955.0,463.6 L954.0,461.9 L953.2,460.1 L952.3,458.3 L951.6,456.5 L950.9,454.6 L950.3,452.7 L949.8,450.8 L949.3,448.9 L948.9,446.9 L948.5,444.9 L948.1,442.9 L947.8,440.9 L947.5,438.9 L947.3,436.9 L947.0,434.8 L946.7,432.8 L946.5,430.8 L946.2,428.7 L945.8,426.7 L945.5,424.7 L945.1,422.7 L944.6,420.7 L944.1,418.7 L943.5,416.8 L942.9,414.8 L941.4,413.2 L938.7,413.1 L936.2,412.7 L933.7,412.1 L931.3,411.2 L929.1,410.1 L926.9,408.7 L924.9,407.0 L924.5,405.0 L924.3,403.1 L924.3,401.1 L924.4,399.1 L924.5,397.1 L924.8,395.1 L925.2,393.0 L925.6,390.9 L926.1,388.8 L926.6,386.7 L927.1,384.5 L927.6,382.4 L928.2,380.3 L928.7,378.2 L929.1,376.1 L929.6,374.0 L929.9,371.9 L930.2,369.8 L930.4,367.8 L930.5,365.8 L930.5,363.8 L930.4,361.8 L930.1,359.9 L929.6,358.1 L929.0,356.3 L928.2,354.5 L927.1,352.8 L925.9,351.2 L924.4,349.6 L922.7,348.1 L920.7,347.0 L918.8,346.6 L917.0,346.2 L915.2,346.0 L913.3,345.8 L911.3,345.7 L909.4,345.6 L907.4,345.6 L905.3,345.6 L903.3,345.7 L901.2,345.8 L899.0,345.9 L896.9,346.0 L894.7,346.1 L892.5,346.1 L890.3,346.2 L888.0,346.2 L885.8,346.1 L883.5,346.0 L881.3,345.8 L879.0,345.5 L876.7,345.2 L874.5,344.8 L872.4,344.2 L870.3,343.6 L868.4,342.9 L866.6,342.1 L865.1,341.2 L863.7,340.1 L862.6,339.0 L861.7,337.7 L861.1,336.4 L860.7,334.9 L860.6,333.5 L860.8,332.0 L861.1,330.5 L861.7,328.9 L862.5,327.5 L863.4,326.0 L864.6,324.7 L866.0,323.4 L867.5,322.3 L869.1,321.2 L870.9,320.2 L872.8,319.2 L874.8,318.3 L876.8,317.4 L878.8,316.6 L880.9,315.7 L882.9,314.9 L884.9,314.1 L886.9,313.3 L888.9,312.5 L890.9,311.7 L892.9,310.9 L894.9,310.2 L896.8,309.4 L898.8,308.6 L900.8,307.9 L902.7,307.1 L904.6,306.4 L906.6,305.7 L908.5,305.0 L910.4,304.2 L912.3,303.5 L914.2,302.8 L916.1,302.1 L918.0,301.4 L919.9,300.8 L921.8,300.1 L923.7,299.4 L925.6,298.8 L927.4,298.1 L929.3,297.5 L931.2,296.9 L933.1,296.2 L935.0,295.6 L936.8,295.0 L938.7,294.4 L940.6,293.8 L942.5,293.2 L944.4,292.7 L946.3,292.1 L948.2,291.5 L950.0,291.0 L951.9,290.4 L953.8,289.9 L955.8,289.4 L957.7,288.8 L959.6,288.3 L961.5,287.8 L963.4,287.3 L965.4,286.8 L967.3,286.4 L969.3,285.9 L971.2,285.4 L973.2,285.0 L975.2,284.5 L977.1,284.1 L979.1,283.6 L981.1,283.2 L983.1,282.8 L985.2,282.4 L987.2,282.0 L989.3,281.6 L991.3,281.2 L993.4,280.9 L995.3,280.7 L997.4,280.0 L999.3,280.7 L1001.2,281.4 L1003.1,282.1 L1005.0,282.8 L1006.9,283.5 L1008.8,284.3 L1010.7,285.0 L1012.6,285.8 L1014.4,286.6 L1016.3,287.3 L1018.1,288.1 L1020.0,288.9 L1021.8,289.7 L1023.7,290.6 L1025.5,291.4 L1027.3,292.2 L1029.2,293.1 L1031.0,293.9 L1032.8,294.8 L1034.6,295.7 L1036.4,296.6 L1038.2,297.4 L1040.0,298.3 L1041.7,299.3 L1043.5,300.2 L1045.3,301.1 L1047.0,302.0 L1048.8,303.0 L1050.6,303.9 L1052.3,304.9 L1054.0,305.8 L1055.8,306.8 L1057.5,307.8 L1059.2,308.8 L1061.0,309.8 L1062.7,310.8 L1064.4,311.8 L1066.1,312.8 L1067.8,313.8 L1069.5,314.9 L1071.2,315.9 L1072.9,317.0 L1074.6,318.0 L1076.3,319.1 L1077.9,320.1 L1079.6,321.2 L1081.3,322.3 L1083.0,323.4 L1084.6,324.5 L1086.3,325.6 L1087.9,326.7 L1089.6,327.8 L1091.2,328.9 L1092.9,330.0 L1094.5,331.2 L1096.1,332.3 L1097.8,333.4 L1099.4,334.6 L1101.0,335.7 L1102.6,336.9 L1104.2,338.1 L1105.8,339.2 L1107.5,340.4 L1109.1,341.6 L1110.7,342.8 L1112.3,344.0 L1113.8,345.2 L1115.4,346.4 L1117.0,347.6 L1118.6,348.8 L1120.2,350.0 L1121.8,351.2 L1123.4,352.4 L1124.9,353.7 L1126.5,354.9 L1128.1,356.1 L1129.6,357.4 L1131.2,358.6 L1132.8,359.9 L1134.3,361.1 L1135.9,362.4 L1137.4,363.6 L1139.0,364.9 L1140.5,366.1 L1142.1,367.4 L1143.6,368.7 L1145.2,370.0 L1146.7,371.2 L1148.2,372.5 L1149.8,373.8 L1151.3,375.1 L1152.8,376.4 L1154.4,377.7 L1155.9,379.0 L1157.4,380.3 L1159.0,381.6 L1160.5,382.9 L1162.0,384.2 L1163.5,385.5 L1165.0,386.8 L1166.6,388.1 L1168.1,389.5 L1169.6,390.8 L1171.1,392.1 L1172.6,393.4 L1174.1,394.7 L1175.6,396.1 L1177.2,397.4 L1178.7,398.7 L1180.2,400.0 L1181.7,401.4 L1183.2,402.7 L1184.7,404.0 L1186.2,405.4 L1187.7,406.7 L1189.2,408.1 L1190.7,409.4 L1192.2,410.7 L1193.7,412.1 L1195.2,413.4 L1196.7,414.8 L1198.2,416.1 L1199.7,417.5 L1201.2,418.8 L1202.7,420.2 L1204.2,421.5 L1205.7,422.9 L1207.2,424.2 L1208.6,425.6 L1210.1,426.9 L1211.6,428.3 L1213.1,429.7 L1214.6,431.0 L1216.1,432.4 L1217.5,433.8 L1219.0,435.1 L1220.5,436.5 L1222.0,437.9 L1223.4,439.3 L1224.9,440.6 L1226.4,442.0 L1227.8,443.4 L1229.3,444.8 L1230.7,446.2 L1232.2,447.6 L1233.7,449.0 L1235.1,450.3 L1236.6,451.7 L1238.0,453.1 L1239.5,454.5 L1240.9,455.9 L1242.4,457.3 L1243.8,458.7 L1245.2,460.1 L1246.7,461.5 L1248.1,463.0 L1249.6,464.4 L1251.0,465.8 L1252.4,467.2 L1253.8,468.6 L1255.3,470.0 L1256.7,471.5 L1258.1,472.9 L1259.5,474.3 L1260.9,475.7 L1262.3,477.2 L1263.8,478.6 L1265.2,480.0 L1266.6,481.5 L1268.0,482.9 L1269.4,484.4 L1270.8,485.8 L1272.1,487.3 L1273.5,488.7 L1274.9,490.2 L1276.3,491.6 L1277.7,493.1 L1279.1,494.5 L1280.4,496.0 L1281.8,497.5 L1283.2,498.9 L1284.5,500.4 L1285.9,501.9 L1287.3,503.3 L1288.6,504.8 L1290.0,506.3 L1291.3,507.8 L1292.6,509.3 L1294.0,510.7 L1295.3,512.2 L1296.7,513.7 L1298.0,515.2 L1299.3,516.7 L1300.6,518.2 L1302.0,519.7 L1303.3,521.2 L1304.6,522.7 L1305.9,524.3 L1307.2,525.8 L1308.5,527.3 L1309.8,528.8 L1311.1,530.3 L1312.4,531.9 L1313.7,533.4 L1315.0,534.9 L1316.2,536.4 L1317.5,538.0 L1318.8,539.5 L1320.1,541.1 L1321.3,542.6 L1322.6,544.2 L1323.8,545.7 L1325.1,547.3 L1326.3,548.8 L1327.6,550.4 L1328.8,552.0 L1330.0,553.5 L1331.3,555.1 L1332.5,556.7 L1333.7,558.2 L1334.9,559.8 L1336.2,561.4 L1337.4,563.0 L1338.6,564.6 L1339.8,566.2 L1341.0,567.8 L1342.1,569.4 L1343.3,571.0 L1344.5,572.6 L1345.7,574.2 L1346.9,575.8 L1348.0,577.4 L1349.2,579.0 L1350.3,580.6 L1351.5,582.3 L1352.6,583.9 L1353.8,585.5 L1354.9,587.2 L1356.1,588.8 L1357.2,590.4 L1358.3,592.1 L1359.4,593.7 L1360.5,595.4 L1361.6,597.0 L1362.7,598.7 L1363.8,600.4 L1364.9,602.0 L1366.0,603.7 L1367.1,605.4 L1368.2,607.1 L1369.2,608.7 L1370.3,610.4 L1371.4,612.1 L1372.4,613.8 L1373.5,615.5 L1374.5,617.2 L1375.5,618.9 L1376.6,620.6 L1377.6,622.3 L1378.6,624.0 L1379.6,625.7 L1380.6,627.5 L1381.6,629.2 L1382.6,630.9 L1383.6,632.6 L1384.6,634.4 L1385.6,636.1 L1386.6,637.9 L1387.5,639.6 L1388.5,641.4 L1389.5,643.1 L1390.4,644.9 L1391.4,646.6 L1392.3,648.4 L1393.2,650.2 L1394.2,651.9 L1395.1,653.7 L1396.0,655.5 L1396.9,657.3 L1397.8,659.1 L1398.7,660.9 L1399.6,662.7 L1400.5,664.5 L1401.4,666.3 L1402.2,668.1 L1403.1,669.9 L1404.0,671.7 L1404.8,673.5 L1405.7,675.3 L1406.5,677.1 L1407.4,678.9 L1408.2,680.8 L1409.0,682.6 L1409.8,684.4 L1410.7,686.3 L1411.5,688.1 L1412.3,689.9 L1413.1,691.8 L1413.9,693.6 L1414.6,695.5 L1415.4,697.3 L1416.2,699.2 L1417.0,701.0 L1417.7,702.9 L1418.5,704.8 L1419.2,706.6 L1420.0,708.5 L1420.7,710.4 L1421.5,712.2 L1422.2,714.1 L1422.9,716.0 L1423.6,717.9 L1424.3,719.7 L1425.0,721.6 L1425.7,723.5 L1426.4,725.4 L1427.1,727.3 L1427.8,729.2 L1428.5,731.1 L1429.1,733.0 L1429.8,734.9 L1430.5,736.8 L1431.1,738.7 L1431.8,740.6 L1432.4,742.5 L1433.0,744.4 L1433.7,746.3 L1434.3,748.2 L1434.9,750.1 L1435.5,752.1 L1436.1,754.0 L1436.7,755.9 L1437.3,757.8 L1437.9,759.7 L1438.5,761.7 L1439.0,763.6 L1439.6,765.5 L1440.2,767.5 L1440.7,769.4 L1441.3,771.3 L1441.8,773.3 L1442.4,775.2 L1442.9,777.1 L1443.4,779.1 L1444.0,781.0 L1444.5,782.9 L1445.0,784.9 L1445.5,786.8 L1446.0,788.8 L1446.5,790.7 L1447.0,792.7 L1447.4,794.6 L1447.9,796.6 L1448.4,798.5 L1448.8,800.5 L1449.3,802.4 L1449.8,804.4 L1450.2,806.3 L1450.6,808.3 L1451.1,810.2 L1451.5,812.2 L1451.9,814.2 L1452.3,816.1 L1452.7,818.1 L1453.1,820.0 L1453.5,822.0 L1453.9,824.0 L1454.3,825.9 L1454.7,827.9 L1455.1,829.9 L1455.4,831.8 L1455.8,833.8 L1456.2,835.8 L1456.5,837.7 L1456.9,839.7 L1457.2,841.7 L1457.5,843.6 L1457.8,845.6 L1458.1,847.6 L1458.4,849.5 L1458.7,851.5 L1459.0,853.5 L1459.2,855.5 L1459.5,857.4 L1459.7,859.4 L1459.9,861.4 L1460.1,863.4 L1460.3,865.4 L1460.4,867.3 L1460.6,869.3 L1460.7,871.3 L1460.8,873.3 L1460.9,875.3 L1460.9,877.3 L1461.0,879.3 L1461.0,881.3 L1461.0,883.3 L1461.0,885.3 L1460.9,887.3 L1460.9,889.3 L1460.8,891.3 L1460.7,893.3 L1460.5,895.3 L1460.3,897.4 L1460.1,899.4 L1459.9,901.4 L1459.6,903.4 L1459.3,905.5 L1459.0,907.5 L1458.7,909.5 L1458.3,911.6 L1457.9,913.6 L1457.4,915.7 L1456.9,917.7 L1456.4,919.8 L1455.9,921.8 L1455.3,923.8 L1454.7,925.9 L1454.0,927.9 L1453.3,929.9 L1452.6,931.8 L1451.8,933.8 L1451.0,935.7 L1450.2,937.6 L1449.3,939.5 L1448.4,941.3 L1447.5,943.1 L1446.5,944.8 L1445.4,946.5 L1444.4,948.2 L1443.3,949.8 L1442.1,951.3 L1440.9,952.8 L1439.7,954.2 L1438.4,955.6 L1437.1,956.9 L1435.7,958.1 L1434.3,959.2 L1432.9,960.3 L1431.4,961.3 L1429.9,962.2 L1428.3,963.0 L1426.7,963.7 L1425.0,964.3 L1423.3,964.9 L1421.6,965.4 L1419.9,965.7 L1418.1,966.0 L1416.2,966.2 L1414.4,966.4 L1412.5,966.5 L1410.7,966.4 L1408.8,966.4 L1406.9,966.2 L1405.0,966.0 L1403.0,965.7 L1401.1,965.3 L1399.2,964.9 L1397.3,964.4 L1395.4,963.8 L1393.5,963.2 L1391.6,962.5 L1389.7,961.8 L1387.8,961.0 L1385.9,960.2 L1384.1,959.3 L1382.2,958.4 L1380.4,957.4 L1378.6,956.4 L1376.8,955.4 L1375.0,954.3 L1373.2,953.2 L1371.4,952.1 L1369.6,950.9 L1367.8,949.8 L1366.1,948.6 L1364.3,947.4 L1362.6,946.2 L1360.8,945.0 L1359.1,943.7 L1357.4,942.5 L1355.7,941.3 L1354.0,940.1 L1352.3,938.8 L1350.6,937.6 L1348.9,936.4 L1347.2,935.2 L1345.5,934.0 L1343.9,932.8 L1342.2,931.6 L1340.6,930.3 L1338.9,929.1 L1337.3,927.9 L1335.7,926.7 L1334.1,925.5 L1332.5,924.3 L1330.9,923.1 L1329.3,921.9 L1327.7,920.7 L1326.1,919.5 L1324.5,918.2 L1322.9,917.0 L1321.3,915.8 L1319.8,914.6 L1318.2,913.4 L1316.7,912.2 L1315.1,910.9 L1313.6,909.7 L1312.0,908.5 L1310.5,907.2 L1309.0,906.0 L1307.4,904.8 L1305.9,903.5 L1304.4,902.3 L1302.9,901.0 L1301.4,899.8 L1299.9,898.5 L1298.4,897.3 L1296.9,896.0 L1295.4,894.7 L1293.9,893.5 L1292.4,892.2 L1290.9,890.9 L1289.5,889.6 L1288.0,888.3 L1286.5,887.0 L1285.0,885.7 L1283.6,884.4 L1282.1,883.1 L1280.6,881.7 L1279.2,880.4 L1277.7,879.1 L1276.2,877.7 L1274.8,876.4 L1273.3,875.0 L1271.9,873.7 L1270.4,872.3 L1269.0,871.0 L1267.5,869.6 L1266.0,868.3 L1264.6,866.9 L1263.1,865.6 L1261.6,864.2 L1260.2,862.9 L1258.7,861.5 L1257.2,860.2 L1255.7,858.8 L1254.3,857.5 L1252.8,856.2 L1251.3,854.8 L1249.8,853.5 L1248.3,852.2 L1246.8,850.9 L1245.3,849.6 L1243.8,848.3 L1242.2,847.0 L1240.7,845.7 L1239.2,844.4 L1237.6,843.1 L1236.1,841.9 L1234.5,840.6 L1233.0,839.4 L1231.4,838.1 L1229.8,836.9 L1228.2,835.7 L1226.6,834.5 L1225.0,833.3 L1223.4,832.1 L1221.8,831.0 L1220.1,829.8 L1218.5,828.7 L1216.8,827.6 L1215.1,826.4 L1213.4,825.4 L1211.7,824.3 L1210.0,823.2 L1208.3,822.2 L1206.6,821.2 L1204.8,820.2 L1203.0,819.2 L1201.3,818.2 L1199.5,817.2 L1197.7,816.3 L1195.9,815.4 L1194.1,814.4 L1192.3,813.5 L1190.5,812.6 L1188.7,811.7 L1186.8,810.8 L1185.0,809.8 L1183.2,808.9 L1181.4,808.0 L1179.6,807.1 L1177.8,806.1 L1176.0,805.2 L1174.3,804.2 L1172.5,803.3 L1170.8,802.3 L1169.0,801.3 L1167.3,800.3 L1165.6,799.2 L1163.9,798.2 L1162.3,797.1 L1160.6,796.0 L1159.0,794.9 L1157.3,793.8 L1155.7,792.6 L1154.1,791.5 L1152.5,790.3 L1150.9,789.1 L1149.4,787.9 L1147.8,786.7 L1146.3,785.5 L1144.8,784.3 L1143.3,783.0 L1141.8,781.7 L1140.3,780.4 L1138.8,779.1 L1137.4,777.8 L1135.9,776.5 L1134.5,775.2 L1133.1,773.8 L1131.7,772.4 L1130.3,771.1 L1128.9,769.7 L1127.5,768.3 L1126.2,766.8 L1124.8,765.4 L1123.5,764.0 L1122.2,762.5 L1120.9,761.0 L1119.6,759.6 L1118.3,758.1 L1117.0,756.6 L1115.7,755.1 L1114.4,753.5 L1113.2,752.0 L1112.0,750.5 L1110.7,748.9 L1109.5,747.4 L1108.3,745.8 L1107.1,744.2 L1105.9,742.6 L1104.7,741.0 L1103.5,739.4 L1102.4,737.8 L1101.2,736.2 L1100.1,734.5 L1098.9,732.9 L1097.8,731.2 L1096.7,729.6 L1095.6,727.9 L1094.5,726.2 L1093.4,724.5 L1092.3,722.9 L1091.2,721.2 L1090.1,719.5 L1089.0,717.7 L1088.0,716.0 L1086.9,714.3 L1085.9,712.6 L1084.9,710.9 L1083.8,709.1 L1082.8,707.4 L1081.8,705.6 L1080.8,703.9 L1079.8,702.1 L1078.8,700.3 L1077.8,698.6 L1076.8,696.8 L1075.8,695.0 L1074.8,693.2 L1073.9,691.5 L1072.9,689.7 L1071.9,687.9 L1071.0,686.1 L1070.0,684.3 L1069.1,682.5 L1068.1,680.7 L1067.2,678.9 L1066.3,677.1 L1065.3,675.3 L1064.4,673.5 L1063.5,671.6 L1062.6,669.8 L1061.7,668.0 L1060.8,666.2 L1059.9,664.4 L1059.0,662.6 L1058.1,660.7 L1057.2,658.9 L1056.3,657.1 L1055.4,655.3 L1054.5,653.5 L1053.6,651.6 L1052.7,649.8 L1051.9,648.0 L1051.0,646.2 L1050.1,644.4 L1049.2,642.6 L1048.4,640.7 L1047.5,638.9 L1046.6,637.1 L1045.8,635.3 L1044.9,633.5 L1044.1,631.7 L1043.2,629.9 L1042.4,628.1 L1041.5,626.2 L1040.7,624.4 L1039.9,622.6 L1039.0,620.8 L1038.2,619.0 L1037.4,617.2 L1036.6,615.4 L1035.8,613.6 L1035.0,611.7 L1034.2,609.9 L1033.4,608.1 L1032.6,606.3 L1031.8,604.5 L1031.0,602.7 L1030.3,600.8 L1029.5,599.0 L1028.7,597.2 L1028.0,595.4 L1027.2,593.5 L1026.5,591.7 L1025.8,589.9 L1025.1,588.0 L1024.4,586.2 L1023.7,584.4 L1023.0,582.5 L1022.3,580.7 L1021.6,578.8 L1020.9,577.0 L1020.3,575.1 L1019.6,573.3 L1019.0,571.4 L1018.3,569.6 L1017.7,567.7 L1017.1,565.8 L1016.5,564.0 L1015.9,562.1 L1015.3,560.2 L1014.8,558.3 L1014.2,556.4 L1013.6,554.6 L1013.1,552.7 L1012.6,550.8 L1012.1,548.9 L1011.6,547.0 L1011.1,545.0 L1010.6,543.1 L1010.1,541.2 L1009.7,539.3 L1009.2,537.4 L1008.8,535.4 L1008.4,533.5 L1008.0,531.5 L1007.6,529.6 L1007.2,527.6 L1006.8,525.7 L1006.5,523.7 L1006.1,521.7 L1005.8,519.8 L1005.5,517.8 L1005.2,515.8 L1004.9,513.8 L1004.7,511.8 L1004.4,509.8 L1004.2,507.8 L1003.9,505.7 L1003.7,503.7 L1003.6,501.7 L1003.4,499.6 L1003.2,497.6 L1003.1,495.5 L1003.0,493.5 L1002.8,491.4 L1002.8,489.3 L1002.7,487.2 L1002.6,485.1 L1002.6,483.0 L1002.6,480.9 L1002.6,478.8 L1002.6,476.7 L1002.6,474.5 L1002.3,473.0" fill="none" stroke="#000" stroke-width="9" stroke-linejoin="round"/>
</g>
<path d="M-40,-40 H2040 V1829 H-40 Z M9,9 V1818.7 H1990.7 V9 Z" fill="#3b3b3b" fill-rule="evenodd"/>
<g font-size="50" fill="#000">
<text x="19.5" y="1872.4" textLength="162" lengthAdjust="spacingAndGlyphs">cd/klm</text>
<text x="1726.5" y="1872" textLength="254" lengthAdjust="spacingAndGlyphs">η = 100 %</text>
</g>
<line x1="19.5" y1="1923.7" x2="120.9" y2="1923.7" stroke="#f5c08a" stroke-width="5"/>
<line x1="19.5" y1="1963.5" x2="120.9" y2="1963.5" stroke="#666" stroke-width="4"/>
<g font-size="42" fill="#000">
<text x="139.5" y="1939.7" textLength="172" lengthAdjust="spacingAndGlyphs">C0/C180</text>
<text x="139.5" y="1979.5" textLength="197.5" lengthAdjust="spacingAndGlyphs">C90/C270</text>
</g>
</g>
</svg>
</body></html>
